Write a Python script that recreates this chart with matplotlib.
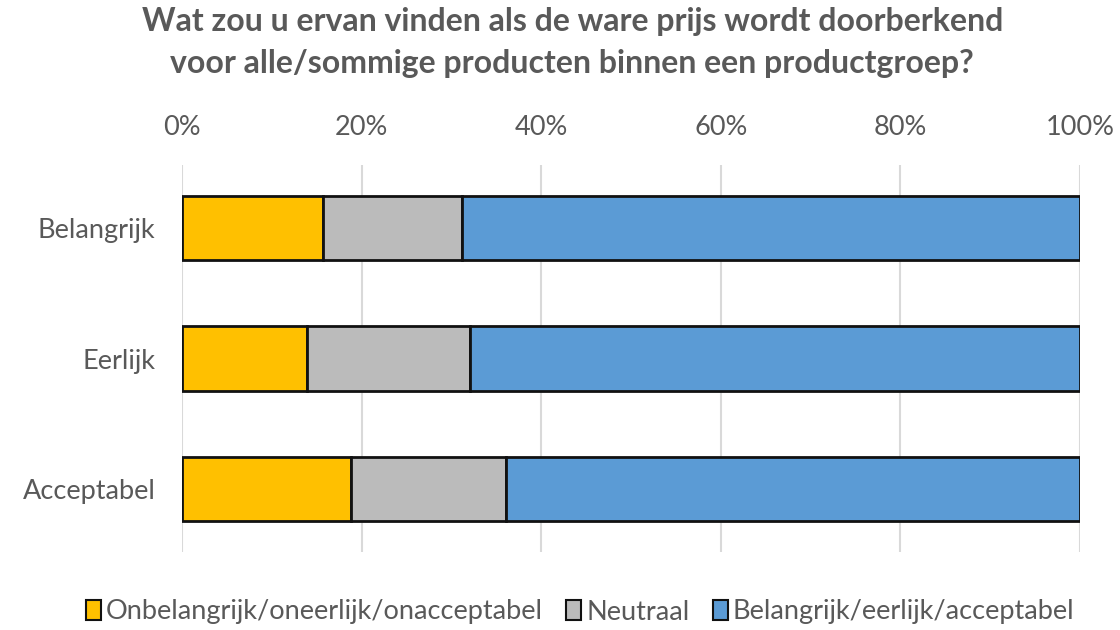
import matplotlib
matplotlib.use("Agg")
import matplotlib.pyplot as plt
from matplotlib.patches import Patch
from matplotlib.ticker import PercentFormatter

plt.rcParams['font.family'] = ['Lato', 'DejaVu Sans']

categories = ["Belangrijk", "Eerlijk", "Acceptabel"]
series_names = ["Onbelangrijk/oneerlijk/onacceptabel", "Neutraal", "Belangrijk/eerlijk/acceptabel"]
onbelangrijk = [15.7, 13.9, 18.8]
neutraal = [15.5, 18.2, 17.3]
belangrijk = [68.8, 67.9, 63.9]
colors = ["#FFC000", "#BBBBBB", "#5B9BD5"]
xticks = [0, 20, 40, 60, 80, 100]

text_color = "#595959"

fig = plt.figure(figsize=(11.2, 6.3), dpi=100)
ax = fig.add_axes([182/1120, 1 - 552/630, (1080-182)/1120, (552-165)/630])

ypos = list(range(len(categories)))
left = [0.0] * len(categories)
for vals, col, name in zip([onbelangrijk, neutraal, belangrijk], colors, series_names):
    ax.barh(ypos, vals, left=left, height=0.49, color=col, edgecolor="#111111",
            linewidth=2.0, label=name, zorder=3)
    left = [l + v for l, v in zip(left, vals)]

ax.set_xlim(0, 100)
ax.set_ylim(-0.48, 2.48)
ax.invert_yaxis()
ax.set_yticks(ypos)
ax.set_yticklabels(categories)
ax.set_xticks(xticks)
ax.xaxis.set_major_formatter(PercentFormatter(decimals=0))
ax.xaxis.tick_top()
ax.tick_params(axis='x', length=0, pad=18, labelsize=19.5, labelcolor=text_color)
ax.tick_params(axis='y', length=0, pad=19, labelsize=19.5, labelcolor=text_color)
for s in ax.spines.values():
    s.set_visible(False)
ax.grid(axis='x', color="#D9D9D9", linewidth=1.5, zorder=0)
ax.set_axisbelow(True)

fig.text(0.511, 1 - 22/630, "Wat zou u ervan vinden als de ware prijs wordt doorberkend",
         ha='center', va='center', fontsize=23, fontweight='bold', color=text_color)
fig.text(0.511, 1 - 63/630, "voor alle/sommige producten binnen een productgroep?",
         ha='center', va='center', fontsize=23, fontweight='bold', color=text_color)

handles = [Patch(facecolor=c, edgecolor="#111111", linewidth=1.5, label=n)
           for c, n in zip(colors, series_names)]
leg = fig.legend(handles=handles, loc='center', bbox_to_anchor=(0.518, 1 - 612/630),
                 ncol=3, frameon=False, fontsize=19.5, handlelength=0.55, handleheight=0.75,
                 handletextpad=0.2, columnspacing=0.85)
for t in leg.get_texts():
    t.set_color(text_color)

fig.savefig("out.png", dpi=100, facecolor="white")
